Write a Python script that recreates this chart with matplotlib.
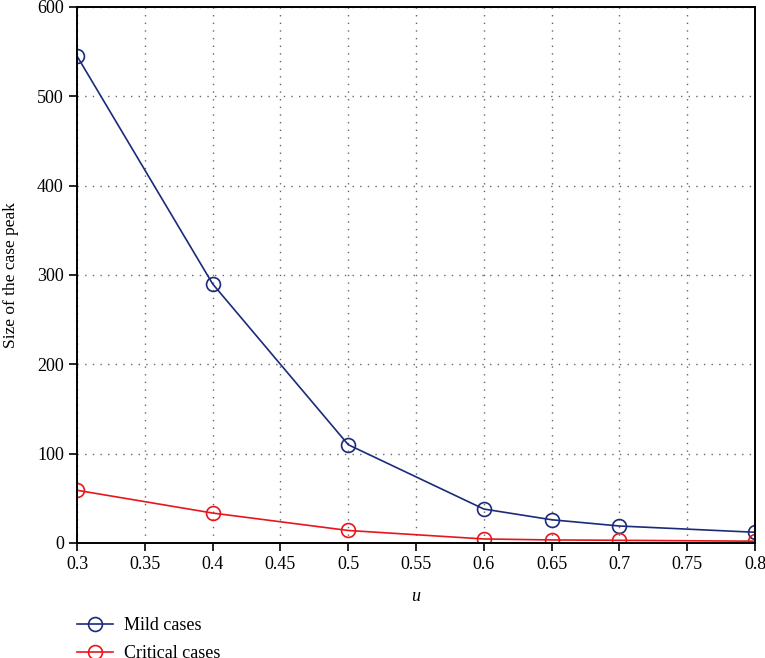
import matplotlib
matplotlib.use("Agg")
import matplotlib.pyplot as plt

u = [0.3, 0.4, 0.5, 0.6, 0.65, 0.7, 0.8]
mild = [545, 290, 110, 38, 26, 19, 12]
critical = [59, 33.5, 14, 4.5, 3.4, 3, 2]
xticks = [0.3, 0.35, 0.4, 0.45, 0.5, 0.55, 0.6, 0.65, 0.7, 0.75, 0.8]
xticklabels = ["0.3", "0.35", "0.4", "0.45", "0.5", "0.55", "0.6", "0.65", "0.7", "0.75", "0.8"]
yticks = [0, 100, 200, 300, 400, 500, 600]

plt.rcParams['font.family'] = ['Liberation Serif', 'DejaVu Serif']

fig = plt.figure(figsize=(7.65, 6.58), dpi=100)
ax = fig.add_axes([0.1007, 0.1748, 0.8863, 0.8146])

ax.plot(u, mild, color='#1c2a7c', lw=1.2, marker='o', ms=10, mfc='none', mec='#1c2a7c', mew=1.2, label='Mild cases')
ax.plot(u, critical, color='#e8161c', lw=1.2, marker='o', ms=10, mfc='none', mec='#e8161c', mew=1.2, label='Critical cases')

ax.set_xlim(0.3, 0.8)
ax.set_ylim(0, 600)
ax.set_xticks(xticks)
ax.set_xticklabels(xticklabels)
ax.set_yticks(yticks)
ax.tick_params(direction='out', length=6, width=1.2, labelsize=13, colors='black')
ax.grid(True, linestyle=(0, (1, 4.5)), color='#666666', lw=1.0)
for s in ax.spines.values():
    s.set_linewidth(1.4)

ax.set_xlabel('u', fontstyle='italic', fontsize=13, labelpad=11)
ax.set_ylabel('Size of the case peak', fontsize=12.5, labelpad=13)

ax.legend(loc='upper left', bbox_to_anchor=(0.0, -0.139), frameon=False, fontsize=13,
          handlelength=2.0, handletextpad=0.6, labelspacing=0.6, borderaxespad=0, borderpad=0)

fig.savefig('out.png', dpi=100)
